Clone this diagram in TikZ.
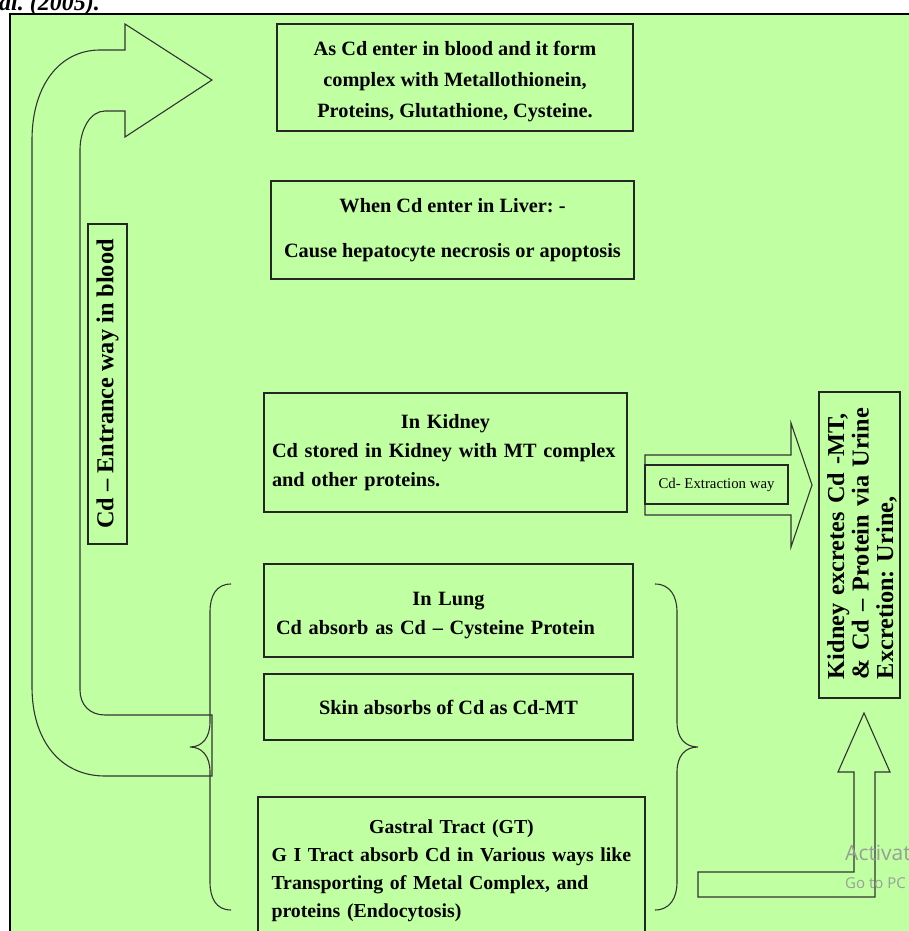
\documentclass[tikz,border=0pt]{standalone}
\usepackage{fontspec}
\setmainfont{Liberation Serif}
\newfontfamily\wmfont{Open Sans}
\usepackage{xcolor}
\usepackage{tikz}
\usetikzlibrary{positioning}
\definecolor{bggreen}{RGB}{193,255,163}
\definecolor{wmgray}{RGB}{150,160,150}
\frenchspacing

\begin{document}
\begin{tikzpicture}[x=1pt, y=-1pt,
                        box/.style={draw=black!85, line width=1.4pt, inner sep=0pt, align=center, font=\fontsize{20.3}{29}\selectfont\bfseries},
                        sidebox/.style={box, rotate=90, font=\fontsize{24.3}{24.5}\selectfont\bfseries},
                        outline/.style={draw=black!80, line width=1.1pt}]
                        \useasboundingbox (0,0) rectangle (909,931);
                        \clip (0,0) rectangle (909,931);
                        \fill [bggreen] (10,14) rectangle (909,931);
                        \draw [line width=2pt] (10,931) -- (10,14) -- (909,14);
                        \node[anchor=base west, inner sep=0pt, font=\fontsize{24}{24}\selectfont\bfseries\itshape] (caption) at (-1,11) {al. (2005).};
                        \node[box, minimum width=356, minimum height=107, font=\fontsize{20.3}{31}\selectfont\bfseries] (blood) at (455,77.5) {\rule{0pt}{21.5pt}As Cd enter in blood and it form\\complex with Metallothionein,\\Proteins, Glutathione, Cysteine.};
                        \node[box, minimum width=363, minimum height=98] (liver) at (452.5,230) {When Cd enter in Liver: -\\[16pt]Cause hepatocyte necrosis or apoptosis};
                        \node[box, minimum width=363, minimum height=119, text width=347pt, align=left] (kidney) at (445.5,452.5) {\makebox[\linewidth]{In Kidney}\\Cd stored in Kidney with MT complex\\and other proteins.};
                        \node[box, minimum width=369, minimum height=93, text width=345pt, align=left] (lung) at (448.5,610.5) {\makebox[\linewidth]{\rule{0pt}{24pt}In Lung}\\Cd absorb as Cd – Cysteine Protein};
                        \node[box, minimum width=369, minimum height=66] (skin) at (448.5,707) {Skin absorbs of Cd as Cd-MT};
                        \node[box, minimum width=387, minimum height=148, text width=360pt, align=left, font=\fontsize{19.8}{28}\selectfont\bfseries] (gastral) at (451.5,871) {\makebox[\linewidth]{Gastral Tract (GT)}\\\makebox[\linewidth][s]{G I Tract absorb Cd in Various ways like}\\\makebox[\linewidth][s]{Transporting of Metal Complex, and}\\proteins (Endocytosis)};
                        \node[sidebox, minimum width=306, minimum height=81, text width=268pt, align=left] (excrete) at (859.5,545) {\makebox[\linewidth][s]{\rule{0pt}{22pt}Kidney excretes Cd -MT,}\\\makebox[\linewidth][s]{\& Cd – Protein via Urine}\\Excretion: Urine,};
                        \node[sidebox, minimum width=320, minimum height=39] (entrance) at (107.5,384) {Cd – Entrance way in blood};
                        \draw [outline] (212,776) -- (105,776) .. controls (60,776) and (32,740) .. (32,687) -- (32,140) .. controls (32,85) and (60,50) .. (100,50) -- (125,50) -- (125,24) -- (212,80) -- (125,137) -- (125,111) -- (105,111) .. controls (90,111) and (80,130) .. (80,150) -- (80,690) .. controls (80,705) and (90,715) .. (105,715) -- (212,715) -- cycle;
                        \draw [outline] (231,584) .. controls (216,584) and (210,596) .. (210,612) -- (210,722) .. controls (210,738) and (202,747) .. (190,747) .. controls (202,747) and (210,756) .. (210,772) -- (210,882) .. controls (210,898) and (216,910) .. (231,910);
                        \draw [outline] (655,584) .. controls (670,584) and (677,596) .. (677,612) -- (677,722) .. controls (677,738) and (685,747) .. (698,747) .. controls (685,747) and (677,756) .. (677,772) -- (677,882) .. controls (677,898) and (670,910) .. (655,910);
                        \draw [outline] (645,455) -- (791,455) -- (791,423) -- (812,485) -- (791,547) -- (791,515) -- (645,515) -- cycle;
                        \node[draw=black!85, line width=1.1pt, minimum width=143, minimum height=39, inner sep=0pt, font=\fontsize{14.8}{16}\selectfont] (extract) at (716.5,484.5) {Cd- Extraction way};
                        \draw [outline] (698,872) -- (854,872) -- (854,772) -- (838,772) -- (864,713) -- (890,772) -- (875,772) -- (875,897) -- (698,897) -- cycle;
                        \node[anchor=base west, inner sep=0pt, text=wmgray, font=\wmfont\fontsize{21}{21}\selectfont] (activate) at (845,860) {Activat};
                        \node[anchor=base west, inner sep=0pt, text=wmgray, font=\wmfont\fontsize{15}{15}\selectfont] (settings) at (845,888) {Go to PC};
                        \end{tikzpicture}
\end{document}
